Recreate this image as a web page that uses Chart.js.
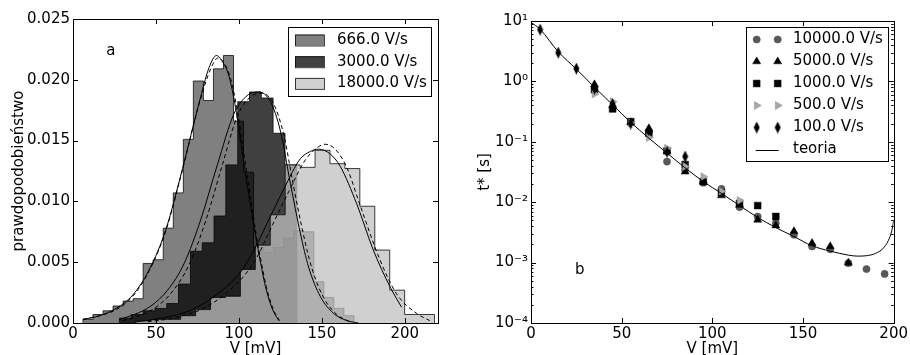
<!DOCTYPE html>
<html>
<head>
<meta charset="utf-8">
<script src="https://cdn.jsdelivr.net/npm/chart.js@4.4.1/dist/chart.umd.min.js"></script>
<style>
  html, body { margin: 0; padding: 0; background: #fff; overflow: hidden; }
  #wrap { position: relative; width: 910px; height: 355px; }
  canvas { position: absolute; top: 0; }
  #left { left: 0; }
  #right { left: 455px; }
</style>
</head>
<body>
<div id="wrap">
  <canvas id="left" width="455" height="355"></canvas>
  <canvas id="right" width="455" height="355"></canvas>
</div>
<script>
// --- dane: panel a (histogramy) ---
const edges666 = [6.0, 12.05, 18.1, 24.15, 30.2, 36.25, 42.3, 48.35, 54.4, 60.45, 66.5, 72.55, 78.6, 84.65,
  90.7, 96.75, 102.8, 108.85, 114.9, 120.95, 127.0, 133.05, 139.1, 145.15, 151.2, 157.25, 163.3, 169.35];
const hist666 = [0.0003, 0.0007, 0.0010, 0.0014, 0.0018, 0.0020, 0.0049, 0.0052, 0.0078, 0.0107, 0.0151,
  0.0199, 0.0183, 0.0209, 0.0220, 0.0166, 0.0124, 0.0062, 0.0058, 0.0062, 0.0070, 0.0076, 0.0075, 0.0034,
  0.0021, 0.0012, 0.0006];

const edges3000 = [28.0, 35.1, 42.3, 49.4, 56.5, 63.6, 70.8, 77.9, 85.0, 92.1, 99.3, 106.4, 113.5, 120.6, 127.8, 134.9];
const hist3000 = [0.0004, 0.0007, 0.0010, 0.0012, 0.0016, 0.0032, 0.0059, 0.0066, 0.0088, 0.0130, 0.0182,
  0.0190, 0.0185, 0.0156, 0.0130];

const edges18000 = [37.9, 46.9, 55.9, 64.9, 73.9, 82.9, 91.9, 100.9, 109.9, 118.9, 127.9, 136.9, 145.9,
  154.9, 163.9, 172.9, 181.9, 190.9, 199.9, 208.9, 217.9];
const hist18000 = [0.0002, 0.0003, 0.0003, 0.0006, 0.0011, 0.0021, 0.0022, 0.0044, 0.0064, 0.0089, 0.0130,
  0.0128, 0.0142, 0.0131, 0.0127, 0.0096, 0.0060, 0.0027, 0.0007, 0.0007];

// dopasowane krzywe (ciągła i przerywana)
const fit666SolidV = [6, 16, 26, 36, 46, 56, 66, 76, 82, 86.5, 90, 94, 98, 102, 106, 110, 113, 116, 120, 124];
const fit666SolidP = [0.0003, 0.0006, 0.0012, 0.0023, 0.0044, 0.0077, 0.0127, 0.0181, 0.0210, 0.0220, 0.0215,
  0.0203, 0.0177, 0.0141, 0.0105, 0.0072, 0.0050, 0.0030, 0.0012, 0.0002];
const fit666DashV = [6, 16, 26, 36, 46, 56, 66, 76, 83, 87.5, 91, 95, 99, 103, 107, 110.5, 113.5, 116.5, 120.5, 124.5];
const fit666DashP = [0.0003, 0.0006, 0.0011, 0.0022, 0.0043, 0.0076, 0.0126, 0.0180, 0.0209, 0.0218, 0.0214,
  0.0201, 0.0175, 0.0139, 0.0103, 0.0072, 0.0050, 0.0030, 0.0012, 0.0002];

const fit3000SolidV = [28, 37, 47, 57, 67, 77, 87, 97, 105, 112, 119, 125, 131, 137, 142, 149, 157, 165, 172];
const fit3000SolidP = [0.0003, 0.0007, 0.0014, 0.0027, 0.0049, 0.0085, 0.0130, 0.0172, 0.0187, 0.0190, 0.0182,
  0.0158, 0.0115, 0.0074, 0.0046, 0.0022, 0.0008, 0.0002, 0.0000];
const fit3000DashV = [30, 40, 50, 60, 70, 80, 90, 99, 107, 114, 121, 127, 133, 139, 144, 151, 159, 167];
const fit3000DashP = [0.0002, 0.0006, 0.0013, 0.0026, 0.0048, 0.0084, 0.0130, 0.0170, 0.0186, 0.0189, 0.0180,
  0.0155, 0.0112, 0.0072, 0.0045, 0.0021, 0.0007, 0.0001];

const fit18000SolidV = [38, 50, 60, 70, 80, 90, 100, 108, 117, 127, 137, 143, 148, 155, 161, 171, 181, 191, 198];
const fit18000SolidP = [0.0001, 0.0003, 0.0006, 0.0010, 0.0017, 0.0027, 0.0040, 0.0057, 0.0082, 0.0110, 0.0135,
  0.0141, 0.0143, 0.0139, 0.0129, 0.0098, 0.0060, 0.0030, 0.0013];
const fit18000DashV = [45, 60, 80, 100, 110, 120, 130, 140, 147, 152, 158, 165, 173, 185, 195, 207, 215];
const fit18000DashP = [0.0001, 0.0004, 0.0013, 0.0034, 0.0052, 0.0080, 0.0108, 0.0134, 0.0144, 0.0147, 0.0143,
  0.0128, 0.0097, 0.0052, 0.0024, 0.0008, 0.0002];

// --- dane: panel b (czasy t*) ---
const rate10000V = [65, 75, 85, 95, 105, 115, 125, 135, 145, 155, 165, 175, 185, 195];
const rate10000T = [0.145, 0.047, 0.034, 0.021, 0.0166, 0.0083, 0.0058, 0.0045, 0.0029, 0.00185, 0.00166,
  0.00098, 0.00078, 0.00065];
const rate5000V = [35, 45, 55, 65, 75, 85, 95, 105, 115, 125, 135, 145, 155, 165, 175];
const rate5000T = [0.89, 0.40, 0.21, 0.166, 0.070, 0.032, 0.022, 0.0129, 0.0090, 0.0051, 0.0041, 0.0033,
  0.0021, 0.00185, 0.00099];
const rate1000V = [35, 45, 55, 65, 75, 85, 95, 105, 115, 125, 135];
const rate1000T = [0.73, 0.35, 0.215, 0.138, 0.071, 0.042, 0.0219, 0.0144, 0.0096, 0.0088, 0.0058];
const rate500V = [35, 45, 55, 65, 75, 85, 95, 105, 115];
const rate500T = [0.62, 0.46, 0.205, 0.118, 0.078, 0.039, 0.0265, 0.0152, 0.0107];
const rate100V = [5, 15, 25, 35, 45, 55, 65, 75, 85];
const rate100T = [7.2, 3.0, 1.63, 0.76, 0.42, 0.20, 0.156, 0.068, 0.057];

const theoryV = [0, 5, 15, 25, 35, 45, 55, 65, 75, 85, 95, 105, 115, 125, 135, 145, 155, 165, 175, 180, 185,
  190, 194, 197, 199, 200];
const theoryT = [9.5, 7.3, 3.1, 1.6, 0.80, 0.41, 0.21, 0.115, 0.065, 0.037, 0.022, 0.0140, 0.0088, 0.0056,
  0.0038, 0.0027, 0.0019, 0.00155, 0.00133, 0.00128, 0.00130, 0.00142, 0.0017, 0.0023, 0.0034, 0.0050];

const xTicksA = [0, 50, 100, 150, 200];
const yTicksA = [0, 0.005, 0.010, 0.015, 0.020, 0.025];
const xTicksB = [0, 50, 100, 150, 200];
const yTicksB = [1e-4, 1e-3, 1e-2, 1e-1, 1e0, 1e1];

// --- wspólne ustawienia ---
const FONT = "'DejaVu Sans', 'Liberation Sans', sans-serif";
Chart.defaults.font.family = FONT;
Chart.defaults.font.size = 15;
Chart.defaults.color = "#000";

const toPoints = (xs, ys) => xs.map((x, i) => ({ x, y: ys[i] }));

function histPoints(edges, heights) {
  const pts = [{ x: edges[0], y: 0 }];
  heights.forEach((h, i) => pts.push({ x: edges[i], y: h }));
  pts.push({ x: edges[edges.length - 1], y: 0 });
  return pts;
}

const SUP = { "-": "\u207B", "0": "\u2070", "1": "\u00B9", "2": "\u00B2", "3": "\u00B3", "4": "\u2074" };
const powLabel = (v) => "10" + String(Math.round(Math.log10(v))).split("").map((c) => SUP[c]).join("");

// ramka i wewnętrzne znaczniki osi
function frameTicks(logY) {
  return {
    id: "frameTicks",
    afterDatasetsDraw(chart) {
      const { ctx, chartArea: a, scales } = chart;
      const L = 5, Lm = 2.5;
      ctx.save();
      ctx.strokeStyle = "#000";
      ctx.lineWidth = 1;
      ctx.beginPath();
      scales.x.ticks.forEach((t) => {
        const px = Math.round(scales.x.getPixelForValue(t.value)) + 0.5;
        ctx.moveTo(px, a.bottom); ctx.lineTo(px, a.bottom - L);
        ctx.moveTo(px, a.top); ctx.lineTo(px, a.top + L);
      });
      scales.y.ticks.forEach((t) => {
        const py = Math.round(scales.y.getPixelForValue(t.value)) + 0.5;
        ctx.moveTo(a.left, py); ctx.lineTo(a.left + L, py);
        ctx.moveTo(a.right, py); ctx.lineTo(a.right - L, py);
      });
      if (logY) {
        const s = scales.y;
        for (let k = Math.floor(Math.log10(s.min)); k < Math.log10(s.max); k++) {
          for (let m = 2; m <= 9; m++) {
            const v = m * Math.pow(10, k);
            if (v <= s.min || v >= s.max) continue;
            const py = Math.round(s.getPixelForValue(v)) + 0.5;
            ctx.moveTo(a.left, py); ctx.lineTo(a.left + Lm, py);
            ctx.moveTo(a.right, py); ctx.lineTo(a.right - Lm, py);
          }
        }
      }
      ctx.stroke();
      ctx.strokeRect(Math.round(a.left) + 0.5, Math.round(a.top) + 0.5,
        Math.round(a.right - a.left), Math.round(a.bottom - a.top));
      ctx.restore();
    },
  };
}

// podpis panelu ("a", "b")
function panelTag(text, x, y) {
  return {
    id: "panelTag",
    afterDraw(chart) {
      const { ctx, scales } = chart;
      ctx.save();
      ctx.font = "15px " + FONT;
      ctx.fillStyle = "#000";
      ctx.textAlign = "center";
      ctx.textBaseline = "middle";
      ctx.fillText(text, scales.x.getPixelForValue(x), scales.y.getPixelForValue(y));
      ctx.restore();
    },
  };
}

function markAt(ctx, ds, x, y) {
  ctx.fillStyle = ds.backgroundColor;
  ctx.strokeStyle = ds.borderColor;
  ctx.lineWidth = ds.borderWidth || 0;
  const opts = { pointStyle: ds.pointStyle, radius: ds.pointRadius, rotation: ds.rotation || 0, borderWidth: ds.borderWidth || 0 };
  if (Chart.helpers && Chart.helpers.drawPoint) {
    Chart.helpers.drawPoint(ctx, opts, x, y);
  } else {
    ctx.beginPath(); ctx.arc(x, y, ds.pointRadius, 0, Math.PI * 2); ctx.fill();
  }
}

// legenda w ramce, w stylu matplotlib
function boxLegend(spec) {
  return {
    id: "boxLegend",
    afterDraw(chart) {
      const ctx = chart.ctx;
      const [bx, by, bw, bh] = spec.box;
      ctx.save();
      ctx.fillStyle = "#fff";
      ctx.fillRect(bx, by, bw, bh);
      ctx.strokeStyle = "#000";
      ctx.lineWidth = 1;
      ctx.strokeRect(bx + 0.5, by + 0.5, bw, bh);
      ctx.font = "15px " + FONT;
      ctx.textBaseline = "middle";
      spec.items.forEach((idx, i) => {
        const ds = chart.data.datasets[idx];
        const y = spec.firstY + i * spec.rowGap;
        if (spec.kind === "patch") {
          ctx.fillStyle = ds.backgroundColor;
          ctx.fillRect(spec.markX[0], y - 5.5, spec.markX[1] - spec.markX[0], 11);
          ctx.strokeStyle = ds.borderColor;
          ctx.lineWidth = 1;
          ctx.strokeRect(spec.markX[0] + 0.5, y - 5, spec.markX[1] - spec.markX[0], 11);
        } else if (ds.showLine) {
          ctx.strokeStyle = ds.borderColor;
          ctx.lineWidth = ds.borderWidth;
          ctx.beginPath();
          ctx.moveTo(spec.markX[0] - 1, Math.round(y) + 0.5);
          ctx.lineTo(spec.markX[1] + 1, Math.round(y) + 0.5);
          ctx.stroke();
        } else {
          spec.markX.forEach((mx) => markAt(ctx, ds, mx, y));
        }
        ctx.fillStyle = "#000";
        ctx.textAlign = "left";
        ctx.fillText(ds.label, spec.textX, y);
      });
      ctx.restore();
    },
  };
}

// oś X zajmuje 35 px, a 3 px wystaje poza płótno (ujemny padding) — tytuł przycięty jak w oryginale
const axisBase = (afterFit) => ({
  afterFit,
  grid: { display: false, drawTicks: false },
  border: { display: false },
});

// --- panel a ---
const histStyle = (fill) => ({
  type: "line",
  stepped: "before",
  fill: "origin",
  backgroundColor: fill,
  borderColor: "rgba(0,0,0,0.75)",
  borderWidth: 1,
  pointRadius: 0,
});
const fitStyle = (dash) => ({
  type: "line",
  borderColor: "#000",
  borderWidth: 1,
  borderDash: dash,
  pointRadius: 0,
  fill: false,
  tension: 0.4,
  cubicInterpolationMode: "monotone",
  order: 0,
});

new Chart(document.getElementById("left"), {
  type: "line",
  data: {
    datasets: [
      { label: "666.0 V/s", data: histPoints(edges666, hist666), ...histStyle("rgba(86,86,86,0.75)"), order: 3 },
      { label: "3000.0 V/s", data: histPoints(edges3000, hist3000), ...histStyle("rgba(0,0,0,0.75)"), order: 2 },
      { label: "18000.0 V/s", data: histPoints(edges18000, hist18000), ...histStyle("rgba(192,192,192,0.75)"), order: 1 },
      { label: "fit666", data: toPoints(fit666SolidV, fit666SolidP), ...fitStyle([]) },
      { label: "fit666d", data: toPoints(fit666DashV, fit666DashP), ...fitStyle([4, 3]) },
      { label: "fit3000", data: toPoints(fit3000SolidV, fit3000SolidP), ...fitStyle([]) },
      { label: "fit3000d", data: toPoints(fit3000DashV, fit3000DashP), ...fitStyle([4, 3]) },
      { label: "fit18000", data: toPoints(fit18000SolidV, fit18000SolidP), ...fitStyle([]) },
      { label: "fit18000d", data: toPoints(fit18000DashV, fit18000DashP), ...fitStyle([4, 3]) },
    ],
  },
  options: {
    responsive: false,
    animation: false,
    events: [],
    devicePixelRatio: 1,
    layout: { padding: { left: 0, top: 19, right: 17, bottom: -3 } },
    plugins: { legend: { display: false }, tooltip: { enabled: false } },
    scales: {
      x: {
        type: "linear", min: 0, max: 220,
        ...axisBase((s) => { s.height = 35; }),
        afterBuildTicks: (s) => { s.ticks = xTicksA.map((v) => ({ value: v })); },
        ticks: { padding: 2, autoSkip: false, maxRotation: 0, color: "#000" },
        title: { display: true, text: "V [mV]", color: "#000", padding: { top: 0, bottom: 0 } },
      },
      y: {
        type: "linear", min: 0, max: 0.025,
        ...axisBase((s) => { s.width = 73; }),
        afterBuildTicks: (s) => { s.ticks = yTicksA.map((v) => ({ value: v })); },
        ticks: { padding: 3, autoSkip: false, color: "#000", callback: (v) => Number(v).toFixed(3) },
        title: { display: true, text: "prawdopodobieństwo", color: "#000", padding: { top: 10, bottom: 0 } },
      },
    },
  },
  plugins: [
    frameTicks(false),
    panelTag("a", 22.8, 0.0224),
    boxLegend({ kind: "patch", box: [288, 27, 143, 69], items: [0, 1, 2], firstY: 40, rowGap: 21.7, markX: [295, 324], textX: 337 }),
  ],
});

// --- panel b ---
const thinDiamond = document.createElement("canvas");
thinDiamond.width = 7;
thinDiamond.height = 12;
(() => {
  const d = thinDiamond.getContext("2d");
  d.fillStyle = "#000";
  d.beginPath();
  d.moveTo(3.5, 0); d.lineTo(6.5, 6); d.lineTo(3.5, 12); d.lineTo(0.5, 6);
  d.closePath();
  d.fill();
})();

const markStyle = (style, radius, fill, border, rotation, order) => ({
  pointStyle: style, pointRadius: radius, rotation, pointRotation: rotation,
  backgroundColor: fill, borderColor: border, borderWidth: 0.5, order,
});

new Chart(document.getElementById("right"), {
  type: "scatter",
  data: {
    datasets: [
      { label: "10000.0 V/s", data: toPoints(rate10000V, rate10000T), ...markStyle("circle", 3.6, "#585858", "#4a4a4a", 0, 5) },
      { label: "5000.0 V/s", data: toPoints(rate5000V, rate5000T), ...markStyle("triangle", 4.6, "#000", "#000", 0, 4) },
      { label: "1000.0 V/s", data: toPoints(rate1000V, rate1000T), ...markStyle("rect", 4.8, "#000", "#000", 0, 3) },
      { label: "500.0 V/s", data: toPoints(rate500V, rate500T), ...markStyle("triangle", 4.6, "#a8a8a8", "#8a8a8a", 90, 2) },
      { label: "100.0 V/s", data: toPoints(rate100V, rate100T), ...markStyle(thinDiamond, 4, "#000", "#000", 0, 1) },
      {
        label: "teoria", data: toPoints(theoryV, theoryT), type: "line", showLine: true,
        borderColor: "#000", borderWidth: 1, pointRadius: 0, fill: false,
        tension: 0.4, cubicInterpolationMode: "monotone", order: 0,
      },
    ],
  },
  options: {
    responsive: false,
    animation: false,
    events: [],
    devicePixelRatio: 1,
    layout: { padding: { left: 0, top: 21, right: 14, bottom: -3 } },
    plugins: { legend: { display: false }, tooltip: { enabled: false } },
    scales: {
      x: {
        type: "linear", min: 0, max: 200,
        ...axisBase((s) => { s.height = 35; }),
        afterBuildTicks: (s) => { s.ticks = xTicksB.map((v) => ({ value: v })); },
        ticks: { padding: 2, autoSkip: false, maxRotation: 0, color: "#000" },
        title: { display: true, text: "V [mV]", color: "#000", padding: { top: 0, bottom: 0 } },
      },
      y: {
        type: "logarithmic", min: 1e-4, max: 10,
        ...axisBase((s) => { s.width = 76; }),
        afterBuildTicks: (s) => { s.ticks = yTicksB.map((v) => ({ value: v })); },
        ticks: { padding: 3, autoSkip: false, color: "#000", callback: (v) => powLabel(v) },
        title: { display: true, text: "t* [s]", color: "#000", padding: { top: 21, bottom: 0 } },
      },
    },
  },
  plugins: [
    frameTicks(true),
    panelTag("b", 26.9, 7.6e-4),
    boxLegend({ kind: "mark", box: [291, 27, 142, 134], items: [0, 1, 2, 3, 4, 5], firstY: 39.5, rowGap: 22, markX: [301.7, 322.7], textX: 338 }),
  ],
});
</script>
</body>
</html>
